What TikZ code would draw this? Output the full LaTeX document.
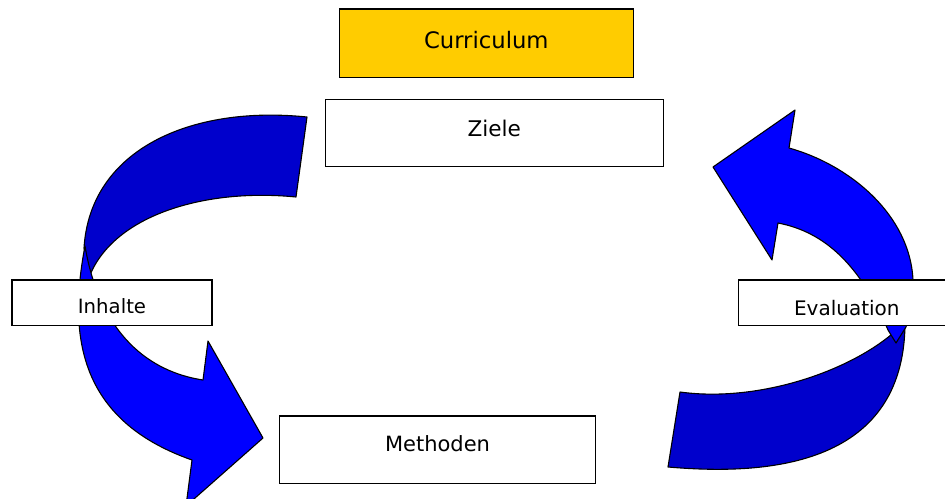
\documentclass[tikz,border=0pt]{standalone}
\usepackage{fontspec}
\setmainfont{DejaVu Sans}
\definecolor{front}{HTML}{0000FF}
\definecolor{back}{HTML}{0000CC}
\definecolor{gold}{HTML}{FFCC00}
\begin{document}
\begin{tikzpicture}[x=1pt,y=-1pt,
  box/.style={draw=black,line width=1.3pt,fill=white,inner sep=0pt,anchor=base,align=center},
  frontface/.style={fill=front,draw=black,line width=1.1pt,line join=round},
  backface/.style={fill=back,draw=black,line width=1.1pt,line join=round}]
\useasboundingbox (0,0) rectangle (945,498);
\clip (0,0) rectangle (945,498);
% ---- left curved arrow (Ziele -> Methoden)
\path[backface] (307,117) .. controls (190,105) and (90,150) .. (84,248)
  -- (90,275) .. controls (115,215) and (205,188) .. (296,197) -- cycle;
\path[frontface] (85,246) .. controls (68,335) and (78,420) .. (192,460)
  -- (186,506) -- (263,438) -- (208,341) -- (203,380)
  .. controls (150,372) and (100,335) .. (85,246) -- cycle;
% ---- right curved arrow (Methoden -> Ziele)
\path[backface] (905,322) .. controls (905,470) and (760,475) .. (668,467)
  -- (680,392) .. controls (760,403) and (855,370) .. (900,327) -- cycle;
\path[frontface] (713,167) -- (795,110) -- (789,148)
  .. controls (850,165) and (910,215) .. (913,280)
  .. controls (913,300) and (910,315) .. (906,327)
  -- (896,343) -- (888,330)
  .. controls (860,265) and (825,232) .. (778,223)
  -- (772,260) -- cycle;
% ---- boxes
\node[box,fill=gold,text width=294pt,text height=39pt,text depth=29.3pt,font=\fontsize{22.7}{26}\selectfont] (curr) at (486.3,48) {Curriculum};
\node[box,text width=338pt,text height=36.7pt,text depth=30.7pt,font=\fontsize{21.6}{25}\selectfont] (ziele) at (494.3,136) {Ziele};
\node[box,text width=200pt,text height=33.3pt,text depth=12pt,font=\fontsize{19.7}{23}\selectfont] (inhalte) at (112,313.3) {Inhalte};
\node[box,text width=217pt,text height=35.7pt,text depth=9.6pt,font=\fontsize{20}{24}\selectfont] (eval) at (846.8,315.7) {Evaluation};
\node[box,text width=316.4pt,text height=35.7pt,text depth=31.6pt,font=\fontsize{21}{25}\selectfont] (meth) at (437.5,451.7) {Methoden};
\end{tikzpicture}
\end{document}
